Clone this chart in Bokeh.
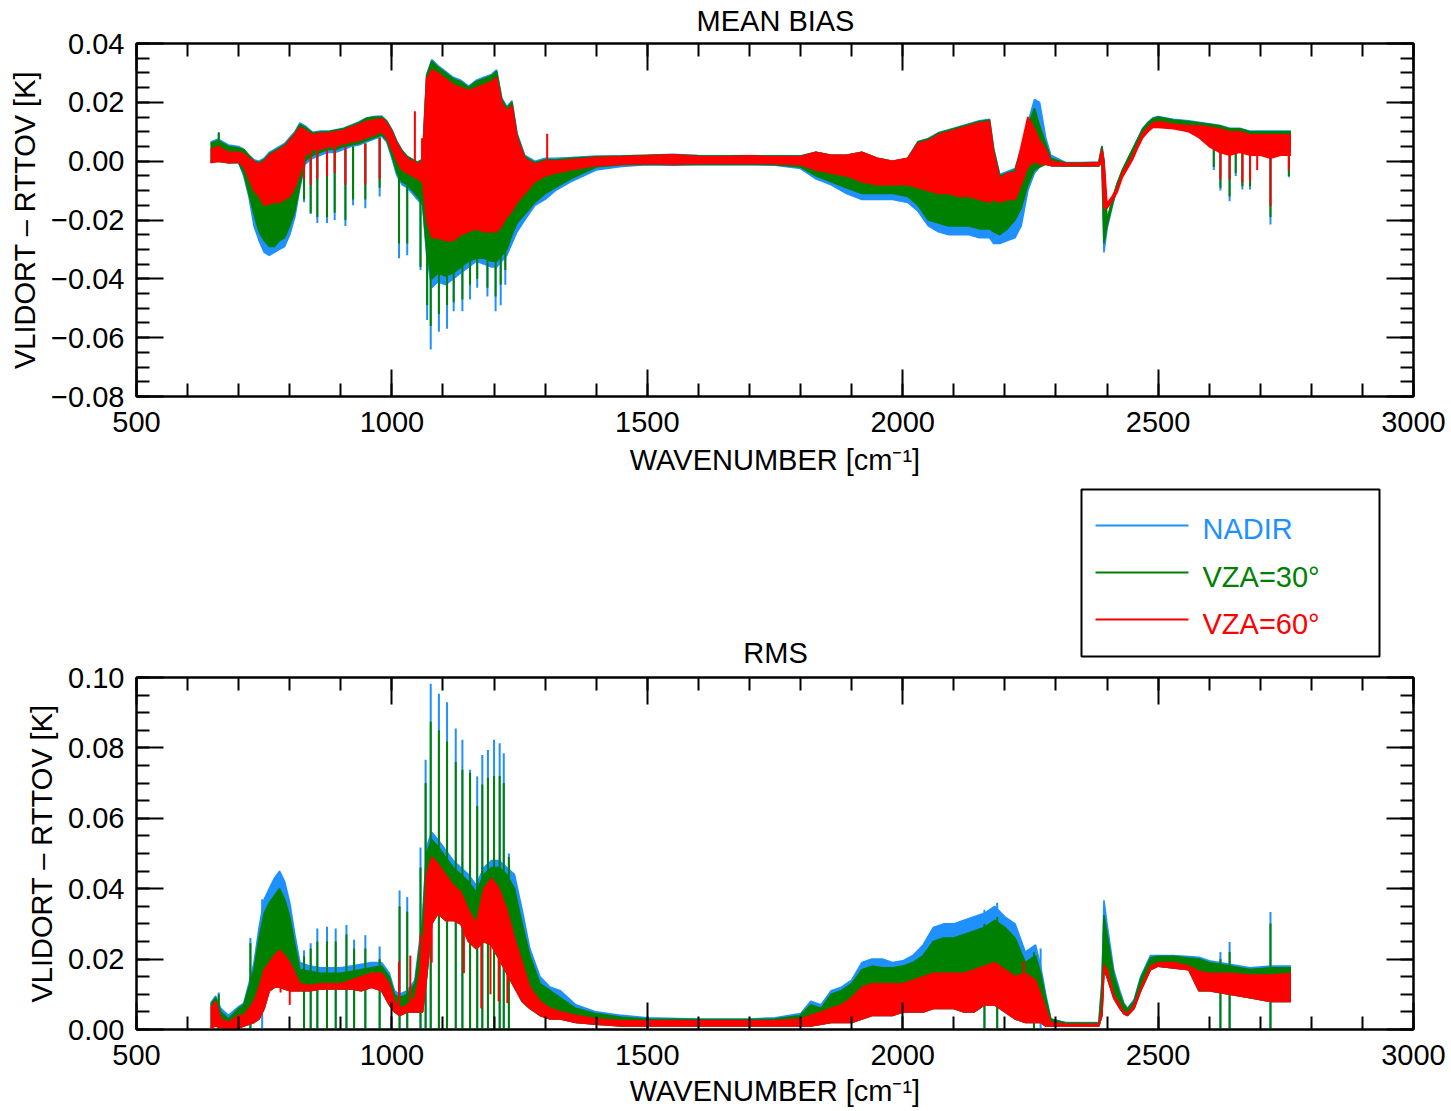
from bokeh.plotting import figure
from bokeh.models import Range1d, LinearAxis, FixedTicker, CustomJSTickFormatter
from bokeh.layouts import column
from bokeh.core.properties import value
from bokeh.embed import file_html
from bokeh.resources import INLINE

# ---------------- data ----------------
SERIES = ["NADIR", "VZA=30\u00b0", "VZA=60\u00b0"]
X_TICKS = [500, 1000, 1500, 2000, 2500, 3000]
BIAS_TICKS = [-0.08, -0.06, -0.04, -0.02, 0.0, 0.02, 0.04]
RMS_TICKS = [0.0, 0.02, 0.04, 0.06, 0.08, 0.10]

# MEAN BIAS: wavenumber grid, and upper / lower envelope of each dense spectrum
bias_x = [645, 660, 680, 700, 710, 720, 730, 740, 750, 760, 770, 780, 790, 800, 810,
          820, 830, 845, 860, 875, 890, 905, 920, 935, 950, 965, 980, 990, 1000, 1010,
          1020, 1030, 1040, 1050, 1060, 1068, 1078, 1090, 1105, 1120, 1135, 1150, 1165, 1180, 1195,
          1205, 1215, 1225, 1235, 1245, 1260, 1280, 1300, 1320, 1350, 1400, 1450, 1500, 1550, 1600,
          1650, 1700, 1750, 1800, 1830, 1860, 1890, 1920, 1950, 1980, 2010, 2030, 2050, 2070, 2090,
          2110, 2130, 2150, 2170, 2178, 2190, 2205, 2220, 2232, 2245, 2258, 2268, 2280, 2290, 2320,
          2350, 2384, 2390, 2394, 2400, 2410, 2420, 2430, 2440, 2450, 2460, 2470, 2480, 2490, 2500,
          2530, 2560, 2580, 2600, 2620, 2640, 2660, 2680, 2700, 2720, 2740, 2760]

bias_red_hi = [0.004, 0.005, 0.003, 0.003, 0.0025, 0.001, 0.000, -0.001, 0.000, 0.002,
               0.003, 0.004, 0.005, 0.007, 0.009, 0.0115, 0.0105, 0.009, 0.0095, 0.0095,
               0.010, 0.0105, 0.0115, 0.0125, 0.0135, 0.014, 0.0145, 0.013, 0.010, 0.006,
               0.003, 0.001, 0.000, -0.001, 0.000, 0.028, 0.031, 0.030, 0.028, 0.026,
               0.025, 0.024, 0.025, 0.026, 0.027, 0.0285, 0.020, 0.017, 0.019, 0.008,
               0.001, -0.001, 0.000, 0.000, 0.0005, 0.0012, 0.0015, 0.0018, 0.0022, 0.0016,
               0.0015, 0.0017, 0.0015, 0.0015, 0.003, 0.002, 0.002, 0.003, 0.001, 0.000,
               0.001, 0.006, 0.007, 0.009, 0.010, 0.011, 0.012, 0.013, 0.0135, 0.003,
               -0.006, -0.004, -0.004, 0.005, 0.015, 0.011, 0.007, 0.004, 0.000, -0.0008,
               -0.0008, -0.0005, 0.004, 0.000, -0.0145, -0.012, -0.009, -0.004, -0.001, 0.002,
               0.006, 0.0095, 0.0115, 0.013, 0.0135, 0.0125, 0.012, 0.012, 0.0115, 0.011,
               0.010, 0.010, 0.009, 0.009, 0.009, 0.009, 0.009]
bias_red_lo = [-0.0005, 0.000, -0.0005, -0.0003, -0.002, -0.006, -0.010, -0.012, -0.015, -0.0145,
               -0.014, -0.014, -0.013, -0.012, -0.009, -0.004, 0.002, 0.004, 0.004, 0.005,
               0.005, 0.006, 0.0065, 0.007, 0.008, 0.009, 0.010, 0.008, 0.004, 0.000,
               -0.003, -0.004, -0.005, -0.006, -0.007, -0.020, -0.026, -0.026, -0.027, -0.027,
               -0.025, -0.024, -0.023, -0.024, -0.024, -0.024, -0.022, -0.019, -0.017, -0.014,
               -0.011, -0.007, -0.005, -0.004, -0.003, -0.0015, -0.001, -0.0008, -0.001, -0.0008,
               -0.0008, -0.0007, -0.0009, -0.0012, -0.003, -0.004, -0.005, -0.007, -0.008, -0.008,
               -0.008, -0.009, -0.010, -0.011, -0.011, -0.012, -0.012, -0.013, -0.014, -0.013,
               -0.014, -0.013, -0.013, -0.008, -0.002, 0.000, -0.001, -0.001, -0.0015, -0.0015,
               -0.0015, -0.0015, 0.000, -0.016, -0.016, -0.0135, -0.0105, -0.0055, -0.0025, 0.0005,
               0.0045, 0.008, 0.010, 0.0115, 0.0115, 0.011, 0.010, 0.008, 0.005, 0.003,
               0.002, 0.003, 0.002, 0.002, 0.001, 0.002, 0.002]
bias_green_hi = [0.006, 0.007, 0.005, 0.0045, 0.004, 0.002, 0.000, -0.0005, 0.0005, 0.0025,
                 0.0035, 0.0045, 0.0055, 0.0075, 0.0095, 0.0125, 0.0115, 0.0095, 0.010, 0.010,
                 0.0105, 0.011, 0.012, 0.013, 0.0145, 0.015, 0.015, 0.0135, 0.0105, 0.0065,
                 0.0035, 0.0015, 0.0005, -0.0005, 0.0005, 0.029, 0.034, 0.032, 0.030, 0.028,
                 0.027, 0.025, 0.027, 0.028, 0.029, 0.0305, 0.021, 0.018, 0.020, 0.009,
                 0.0015, -0.0005, 0.0005, 0.0005, 0.001, 0.0015, 0.0017, 0.002, 0.0022, 0.0018,
                 0.0017, 0.0018, 0.0017, 0.0017, 0.003, 0.002, 0.002, 0.003, 0.001, 0.000,
                 0.001, 0.0065, 0.0075, 0.0095, 0.0105, 0.0115, 0.0125, 0.0135, 0.014, 0.004,
                 -0.005, -0.004, -0.003, 0.004, 0.012, 0.018, 0.012, 0.006, 0.001, -0.0006,
                 -0.0006, -0.0004, 0.005, 0.000, -0.020, -0.013, -0.0075, -0.003, 0.0005, 0.004,
                 0.0075, 0.011, 0.013, 0.0145, 0.015, 0.014, 0.0135, 0.013, 0.0125, 0.012,
                 0.011, 0.011, 0.010, 0.010, 0.010, 0.010, 0.010]
bias_green_lo = [-0.0003, 0.000, -0.0005, -0.0005, -0.004, -0.011, -0.018, -0.024, -0.027, -0.029,
                 -0.029, -0.027, -0.026, -0.022, -0.017, -0.008, 0.000, 0.002, 0.003, 0.004,
                 0.004, 0.005, 0.0055, 0.006, 0.007, 0.008, 0.009, 0.007, 0.002, -0.004,
                 -0.007, -0.008, -0.010, -0.012, -0.014, -0.030, -0.040, -0.038, -0.039, -0.038,
                 -0.036, -0.034, -0.033, -0.033, -0.034, -0.034, -0.032, -0.030, -0.025, -0.021,
                 -0.018, -0.014, -0.011, -0.009, -0.006, -0.002, -0.0012, -0.001, -0.0012, -0.001,
                 -0.0011, -0.001, -0.0012, -0.002, -0.005, -0.007, -0.009, -0.011, -0.011, -0.011,
                 -0.012, -0.015, -0.020, -0.021, -0.022, -0.022, -0.022, -0.023, -0.023, -0.024,
                 -0.025, -0.023, -0.020, -0.016, -0.008, -0.003, -0.002, -0.001, -0.0015, -0.0016,
                 -0.0016, -0.0016, 0.000, -0.028, -0.022, -0.015, -0.009, -0.0045, -0.001, 0.0025,
                 0.006, 0.0095, 0.0115, 0.013, 0.013, 0.0125, 0.012, 0.010, 0.008, 0.006,
                 0.005, 0.006, 0.005, 0.005, 0.004, 0.005, 0.004]
bias_blue_hi = [0.0065, 0.0075, 0.0055, 0.005, 0.004, 0.002, 0.0005, 0.000, 0.001, 0.003,
                0.004, 0.005, 0.006, 0.008, 0.010, 0.013, 0.012, 0.0098, 0.0102, 0.0102,
                0.0107, 0.0112, 0.0122, 0.0133, 0.0147, 0.0152, 0.0153, 0.0137, 0.0107, 0.0067,
                0.0037, 0.0017, 0.0007, -0.0003, 0.0007, 0.0295, 0.0345, 0.0325, 0.0305, 0.0285,
                0.0275, 0.0255, 0.0275, 0.0285, 0.0295, 0.031, 0.0215, 0.0185, 0.0205, 0.0095,
                0.002, 0.000, 0.001, 0.001, 0.0012, 0.0017, 0.0018, 0.002, 0.0023, 0.0019,
                0.0018, 0.0019, 0.0018, 0.0018, 0.003, 0.002, 0.002, 0.003, 0.001, 0.000,
                0.001, 0.0067, 0.0077, 0.0097, 0.0107, 0.0117, 0.0127, 0.0137, 0.0142, 0.0045,
                -0.0045, -0.0035, -0.0025, 0.0045, 0.013, 0.021, 0.020, 0.008, 0.002, -0.0005,
                -0.0005, -0.0003, 0.0052, 0.000, -0.021, -0.0135, -0.0075, -0.003, 0.0005, 0.004,
                0.0077, 0.0112, 0.0132, 0.0147, 0.0152, 0.0142, 0.0137, 0.0132, 0.0127, 0.0122,
                0.0112, 0.0112, 0.0102, 0.0102, 0.0102, 0.0102, 0.0102]
bias_blue_lo = [-0.0003, 0.000, -0.0005, -0.0005, -0.005, -0.012, -0.022, -0.027, -0.031, -0.032,
                -0.031, -0.030, -0.029, -0.025, -0.019, -0.009, -0.001, 0.001, 0.002, 0.003,
                0.003, 0.004, 0.005, 0.0055, 0.0065, 0.0075, 0.0085, 0.0065, 0.001, -0.005,
                -0.008, -0.009, -0.011, -0.013, -0.015, -0.032, -0.043, -0.041, -0.042, -0.040,
                -0.038, -0.036, -0.034, -0.035, -0.036, -0.036, -0.034, -0.032, -0.028, -0.024,
                -0.020, -0.015, -0.013, -0.010, -0.007, -0.003, -0.0018, -0.0012, -0.0014, -0.0012,
                -0.0012, -0.0012, -0.0014, -0.0025, -0.006, -0.008, -0.011, -0.013, -0.013, -0.013,
                -0.014, -0.017, -0.022, -0.024, -0.025, -0.025, -0.025, -0.026, -0.026, -0.028,
                -0.028, -0.027, -0.026, -0.022, -0.010, -0.004, -0.002, -0.001, -0.0015, -0.0017,
                -0.0017, -0.0017, 0.000, -0.031, -0.023, -0.0155, -0.009, -0.0045, -0.001, 0.0025,
                0.006, 0.0095, 0.0115, 0.013, 0.013, 0.0125, 0.012, 0.0095, 0.0075, 0.0055,
                0.0045, 0.0055, 0.0045, 0.0045, 0.0035, 0.0045, 0.0035]

# MEAN BIAS: isolated spectral lines (wavenumber, from, to)
bias_spike_x = [661, 828, 841, 854, 873, 888, 909, 924, 948, 976, 1014, 1030, 1056,
                1069, 1076, 1092, 1108, 1121, 1138, 1153, 1167, 1187, 1203, 1213, 1222,
                2609, 2622, 2640, 2652, 2665, 2680, 2720, 2756]
bias_spike_base = [0.004, 0.004, 0.004, 0.004, 0.004, 0.004, 0.004, 0.005, 0.006, 0.008,
                   -0.004, -0.006, -0.010,
                   -0.03, -0.03, -0.03, -0.03, -0.03, -0.03, -0.03, -0.03, -0.03, -0.03, -0.03, -0.03,
                   0.008, 0.007, 0.005, 0.006, 0.006, 0.005, 0.004, 0.005]
bias_green_spike = [0.0098, -0.013, -0.0175, -0.019, -0.019, -0.0175, -0.020, -0.013, -0.013, -0.009,
                    -0.028, -0.028, -0.036,
                    -0.049, -0.056, -0.052, -0.049, -0.048, -0.047, -0.042, -0.040, -0.043, -0.046,
                    -0.042, -0.037,
                    -0.002, -0.009, -0.012, -0.004, -0.0085, -0.0085, -0.019, -0.005]
bias_blue_spike = [0.0092, -0.014, -0.018, -0.021, -0.021, -0.020, -0.022, -0.015, -0.016, -0.012,
                   -0.033, -0.032, -0.037,
                   -0.054, -0.064, -0.058, -0.057, -0.051, -0.051, -0.047, -0.043, -0.046, -0.051,
                   -0.049, -0.042,
                   -0.003, -0.010, -0.0136, -0.005, -0.0096, -0.0096, -0.0215, -0.0055]
bias_red_spike_x = [828, 841, 854, 873, 888, 909, 948, 976, 1045, 1059, 1304,
                    2622, 2640, 2665, 2680, 2694, 2720, 2756]
bias_red_spike_from = [0.004, 0.004, 0.004, 0.004, 0.005, 0.005, 0.006, 0.008, -0.004, -0.005, 0.0,
                       0.005, 0.004, 0.004, 0.004, 0.004, 0.002, 0.004]
bias_red_spike_to = [-0.006, -0.008, -0.006, -0.005, -0.004, -0.008, -0.008, -0.006, 0.017, 0.0078, 0.0093,
                     -0.0062, -0.0062, -0.0073, -0.0068, -0.003, -0.0153, -0.003]

# RMS: wavenumber grid, lower envelope and upper envelopes
rms_x = [645, 655, 665, 680, 700, 710, 720, 730, 740, 750, 760, 770, 780, 790, 800,
         810, 820, 840, 860, 880, 900, 920, 940, 960, 980, 995, 1005, 1015, 1030, 1045,
         1060, 1068, 1078, 1090, 1105, 1120, 1135, 1150, 1165, 1180, 1195, 1210, 1225, 1240, 1255,
         1270, 1290, 1310, 1330, 1360, 1400, 1450, 1500, 1600, 1700, 1750, 1800, 1820, 1840, 1860,
         1880, 1900, 1920, 1940, 1960, 1980, 2000, 2020, 2040, 2060, 2080, 2100, 2120, 2140, 2160,
         2180, 2200, 2220, 2240, 2260, 2270, 2280, 2290, 2320, 2384, 2390, 2394, 2400, 2413, 2425,
         2433, 2440, 2453, 2466, 2485, 2500, 2530, 2560, 2580, 2600, 2640, 2680, 2720, 2760]
rms_lo = [0.0005, 0.001, 0.0005, 0.0003, 0.0005, 0.001, 0.0015, 0.002, 0.003, 0.006,
          0.011, 0.012, 0.012, 0.0115, 0.011, 0.011, 0.011, 0.011, 0.0115, 0.0115,
          0.0115, 0.0115, 0.011, 0.012, 0.011, 0.007, 0.005, 0.004, 0.005, 0.005,
          0.005, 0.015, 0.030, 0.033, 0.031, 0.031, 0.030, 0.025, 0.023, 0.025,
          0.024, 0.020, 0.016, 0.012, 0.008, 0.006, 0.004, 0.003, 0.003, 0.002,
          0.0015, 0.001, 0.001, 0.001, 0.001, 0.001, 0.001, 0.001, 0.0015, 0.002,
          0.002, 0.002, 0.003, 0.004, 0.004, 0.004, 0.005, 0.005, 0.005, 0.006,
          0.006, 0.006, 0.005, 0.005, 0.007, 0.007, 0.005, 0.003, 0.002, 0.002,
          0.002, 0.001, 0.001, 0.001, 0.001, 0.004, 0.017, 0.015, 0.009, 0.006,
          0.0045, 0.004, 0.006, 0.011, 0.017, 0.018, 0.0175, 0.017, 0.011, 0.011,
          0.010, 0.009, 0.008, 0.008]
rms_red_hi = [0.006, 0.008, 0.003, 0.002, 0.004, 0.004, 0.006, 0.008, 0.012, 0.017,
              0.019, 0.021, 0.0225, 0.021, 0.019, 0.016, 0.013, 0.0125, 0.013, 0.013,
              0.013, 0.014, 0.015, 0.016, 0.016, 0.013, 0.008, 0.006, 0.007, 0.009,
              0.020, 0.044, 0.049, 0.047, 0.044, 0.041, 0.039, 0.034, 0.030, 0.040,
              0.043, 0.040, 0.034, 0.026, 0.019, 0.012, 0.008, 0.006, 0.005, 0.004,
              0.003, 0.0025, 0.0025, 0.0025, 0.0025, 0.0025, 0.003, 0.004, 0.005, 0.006,
              0.007, 0.009, 0.012, 0.013, 0.013, 0.013, 0.013, 0.014, 0.015, 0.016,
              0.016, 0.016, 0.016, 0.017, 0.018, 0.019, 0.017, 0.015, 0.016, 0.014,
              0.010, 0.006, 0.002, 0.0015, 0.0015, 0.006, 0.0184, 0.017, 0.010, 0.007,
              0.005, 0.0045, 0.007, 0.012, 0.018, 0.019, 0.019, 0.018, 0.0165, 0.016,
              0.016, 0.0155, 0.0155, 0.016]
rms_green_hi = [0.007, 0.009, 0.005, 0.003, 0.006, 0.007, 0.012, 0.017, 0.026, 0.033,
                0.036, 0.038, 0.040, 0.037, 0.032, 0.024, 0.017, 0.0165, 0.016, 0.016,
                0.016, 0.0165, 0.017, 0.0175, 0.018, 0.015, 0.010, 0.009, 0.010, 0.013,
                0.030, 0.050, 0.054, 0.052, 0.049, 0.046, 0.044, 0.042, 0.039, 0.044,
                0.046, 0.046, 0.044, 0.040, 0.030, 0.021, 0.013, 0.011, 0.009, 0.006,
                0.0045, 0.0035, 0.003, 0.0028, 0.0028, 0.003, 0.004, 0.007, 0.006, 0.010,
                0.011, 0.013, 0.017, 0.018, 0.0175, 0.0175, 0.018, 0.019, 0.021, 0.025,
                0.026, 0.026, 0.027, 0.028, 0.029, 0.031, 0.029, 0.026, 0.019, 0.021,
                0.016, 0.009, 0.003, 0.0018, 0.0018, 0.012, 0.0325, 0.027, 0.0156, 0.010,
                0.0071, 0.0058, 0.008, 0.0146, 0.0203, 0.0208, 0.0208, 0.0203, 0.020, 0.019,
                0.018, 0.017, 0.0175, 0.0175]
rms_blue_hi = [0.0075, 0.0095, 0.006, 0.004, 0.0065, 0.0075, 0.013, 0.019, 0.029, 0.037,
               0.040, 0.043, 0.045, 0.042, 0.036, 0.027, 0.019, 0.018, 0.0175, 0.0175,
               0.0175, 0.018, 0.0185, 0.019, 0.019, 0.016, 0.011, 0.010, 0.011, 0.014,
               0.032, 0.052, 0.056, 0.054, 0.051, 0.048, 0.046, 0.044, 0.041, 0.046,
               0.048, 0.048, 0.046, 0.044, 0.034, 0.023, 0.015, 0.012, 0.011, 0.007,
               0.005, 0.004, 0.0033, 0.003, 0.003, 0.0033, 0.0045, 0.008, 0.007, 0.011,
               0.012, 0.014, 0.019, 0.020, 0.020, 0.019, 0.0195, 0.021, 0.024, 0.029,
               0.030, 0.030, 0.031, 0.032, 0.033, 0.035, 0.032, 0.030, 0.022, 0.024,
               0.018, 0.010, 0.003, 0.002, 0.002, 0.014, 0.0367, 0.030, 0.017, 0.011,
               0.0075, 0.006, 0.0085, 0.015, 0.021, 0.021, 0.021, 0.0207, 0.0205, 0.0195,
               0.0185, 0.0175, 0.018, 0.018]

# RMS: isolated spectral lines (peak values)
rms_green_spike_x = [661, 723, 828, 841, 854, 873, 890, 911, 926, 948, 976, 1015, 1030, 1056,
                     1066, 1076, 1092, 1108, 1125, 1138, 1153, 1167, 1177, 1188, 1200, 1211, 1219, 1229,
                     2160, 2185, 2257, 2622, 2640, 2720]
rms_green_spike = [0.010, 0.0245, 0.0208, 0.023, 0.025, 0.025, 0.025, 0.027, 0.023, 0.023, 0.020,
                   0.035, 0.0335, 0.046,
                   0.070, 0.0874, 0.085, 0.0818, 0.076, 0.0738, 0.0729, 0.0635, 0.0696, 0.0715,
                   0.072, 0.072, 0.070, 0.049,
                   0.030, 0.032, 0.022, 0.020, 0.022, 0.0301]
rms_blue_spike_x = [661, 723, 746, 828, 841, 854, 873, 890, 911, 926, 948, 976, 1015, 1030, 1056,
                    1066, 1076, 1092, 1108, 1125, 1138, 1153, 1167, 1177, 1188, 1200, 1211, 1219, 1229,
                    2160, 2185, 2257, 2270, 2622, 2640, 2720]
rms_blue_spike = [0.0105, 0.026, 0.037, 0.0225, 0.0245, 0.0287, 0.0292, 0.0287, 0.0297, 0.0255,
                  0.0268, 0.0236, 0.0395, 0.0376, 0.0517,
                  0.0766, 0.0982, 0.0954, 0.093, 0.0855, 0.0823, 0.0738, 0.0719, 0.078, 0.0794,
                  0.0823, 0.0813, 0.0785, 0.050,
                  0.034, 0.036, 0.0236, 0.023, 0.022, 0.0249, 0.0334]
rms_red_spike_x = [782, 800, 1014, 1036, 1056, 1078, 1141, 1175, 1193, 1209, 1226, 2237]
rms_red_spike_from = [0.012, 0.011, 0.005, 0.005, 0.005, 0.030, 0.028, 0.024, 0.024, 0.020, 0.016, 0.010]
rms_red_spike_to = [0.0105, 0.007, 0.0193, 0.021, 0.027, 0.019, 0.016, 0.006, 0.010, 0.008, 0.0075, 0.0193]

# ---------------- styling ----------------
FONT = "Liberation Sans"
FS = "29px"
BLUE, GREEN, RED = "#1E90FF", "#008000", "#FF0000"
COLORS = [BLUE, GREEN, RED]
W = 1450
LEFT, RIGHT = 136, 37          # frame spans 136 .. 1413 px
OVERLAP = 12                   # each panel's transparent top border slides under the strip above it


def style_axis(ax, labels):
    ax.axis_line_color = "black"
    ax.axis_line_width = 2
    ax.major_tick_in = 27
    ax.major_tick_out = 0
    ax.minor_tick_in = 13
    ax.minor_tick_out = 0
    ax.major_tick_line_color = "black"
    ax.minor_tick_line_color = "black"
    ax.major_tick_line_width = 2
    ax.minor_tick_line_width = 2
    if labels:
        ax.major_label_text_font = FONT
        ax.major_label_text_font_size = FS
        ax.major_label_text_color = "black"
        ax.axis_label_text_font = FONT
        ax.axis_label_text_font_size = FS
        ax.axis_label_text_font_style = "normal"
        ax.axis_label_text_color = "black"
    else:
        ax.major_label_text_font_size = "1px"
        ax.major_label_text_color = None
        ax.major_label_standoff = 0


def panel(y0, y1, yticks, height, top_border, bottom_border, xlab_standoff):
    p = figure(width=W, height=height, x_range=Range1d(500, 3000), y_range=Range1d(y0, y1),
               x_axis_type=None, y_axis_type=None, output_backend="svg",
               toolbar_location=None, min_border_left=LEFT, min_border_right=RIGHT,
               min_border_top=top_border, min_border_bottom=bottom_border)
    p.border_fill_alpha = 0.0
    p.styles = {"margin-top": "-%dpx" % OVERLAP}
    p.outline_line_color = "black"
    p.outline_line_width = 2
    xt = FixedTicker(ticks=X_TICKS, minor_ticks=list(range(500, 3001, 100)))
    yminor = [round(y0 + 0.005 * i, 4) for i in range(int(round((y1 - y0) / 0.005)) + 1)]
    yt = FixedTicker(ticks=yticks, minor_ticks=yminor)
    fmt = CustomJSTickFormatter(code="return (tick < -1e-9 ? '\u2212' : '') + Math.abs(tick).toFixed(2);")

    xb = LinearAxis(ticker=xt, axis_label="WAVENUMBER [cm\u207b\u00b9]")
    style_axis(xb, True)
    xb.major_label_standoff = 15
    xb.axis_label_standoff = xlab_standoff
    p.add_layout(xb, "below")
    xa = LinearAxis(ticker=xt)
    style_axis(xa, False)
    p.add_layout(xa, "above")
    yl = LinearAxis(ticker=yt, formatter=fmt, axis_label="VLIDORT \u2013 RTTOV [K]")
    style_axis(yl, True)
    yl.major_label_standoff = 12
    yl.axis_label_standoff = 7
    p.add_layout(yl, "left")
    yr = LinearAxis(ticker=yt)
    style_axis(yr, False)
    p.add_layout(yr, "right")
    return p


def strip_fig(height):
    f = figure(width=W, height=height, x_range=Range1d(LEFT, LEFT + 1277), y_range=Range1d(height, 0),
               x_axis_type=None, y_axis_type=None, output_backend="svg",
               toolbar_location=None, min_border_left=LEFT, min_border_right=RIGHT,
               min_border_top=0, min_border_bottom=0)
    f.outline_line_color = None
    return f


def draw_band(p, x, lo, hi, color):
    p.varea(x=x, y1=lo, y2=hi, fill_color=color, fill_alpha=1.0)
    p.line(x, hi, line_color=color, line_width=1.6)
    p.line(x, lo, line_color=color, line_width=1.6)


def draw_lines(p, x, a, b, color):
    p.segment(x0=x, y0=a, x1=x, y1=b, line_color=color, line_width=2)


# ---------------- title strip (page y 0..38) ----------------
top = strip_fig(38)
top.text(x=[775], y=[20], text=["MEAN BIAS"], text_align="center", text_baseline="middle",
         text_font=value(FONT), text_font_size=value(FS), text_color="black")

# ---------------- MEAN BIAS panel (page y 26..478, frame 43..398) ----------------
p1 = panel(-0.08, 0.04, BIAS_TICKS, 17 + 355 + 80, 17, 80, 9)
draw_band(p1, bias_x, bias_blue_lo, bias_blue_hi, BLUE)
draw_lines(p1, bias_spike_x, bias_spike_base, bias_blue_spike, BLUE)
draw_band(p1, bias_x, bias_green_lo, bias_green_hi, GREEN)
draw_lines(p1, bias_spike_x, bias_spike_base, bias_green_spike, GREEN)
draw_band(p1, bias_x, bias_red_lo, bias_red_hi, RED)
draw_lines(p1, bias_red_spike_x, bias_red_spike_from, bias_red_spike_to, RED)

# ---------------- legend + RMS title strip (page y 478..668) ----------------
mid = strip_fig(190)
mid.quad(left=[1081], right=[1379], top=[11], bottom=[178], fill_color=None,
         line_color="black", line_width=2)
mid.segment(x0=[1095, 1095, 1095], x1=[1188, 1188, 1188], y0=[47, 94, 141], y1=[47, 94, 141],
            line_color=COLORS, line_width=2)
mid.text(x=[1202, 1202, 1202], y=[50, 98, 145], text=SERIES, text_color=COLORS,
         text_align="left", text_baseline="middle",
         text_font=value(FONT), text_font_size=value(FS))
mid.text(x=[775], y=[174], text=["RMS"], text_align="center", text_baseline="middle",
         text_font=value(FONT), text_font_size=value(FS), text_color="black")

# ---------------- RMS panel (page y 656..1109, frame 677..1032) ----------------
p2 = panel(0.0, 0.10, RMS_TICKS, 21 + 355 + 77, 21, 77, 7)
draw_band(p2, rms_x, rms_lo, rms_blue_hi, BLUE)
draw_lines(p2, rms_blue_spike_x, [0.0] * len(rms_blue_spike_x), rms_blue_spike, BLUE)
draw_band(p2, rms_x, rms_lo, rms_green_hi, GREEN)
draw_lines(p2, rms_green_spike_x, [0.0] * len(rms_green_spike_x), rms_green_spike, GREEN)
draw_band(p2, rms_x, rms_lo, rms_red_hi, RED)
draw_lines(p2, rms_red_spike_x, rms_red_spike_from, rms_red_spike_to, RED)

layout = column(top, p1, mid, p2)
open("out.html", "w", encoding="utf-8").write(file_html(layout, INLINE))
